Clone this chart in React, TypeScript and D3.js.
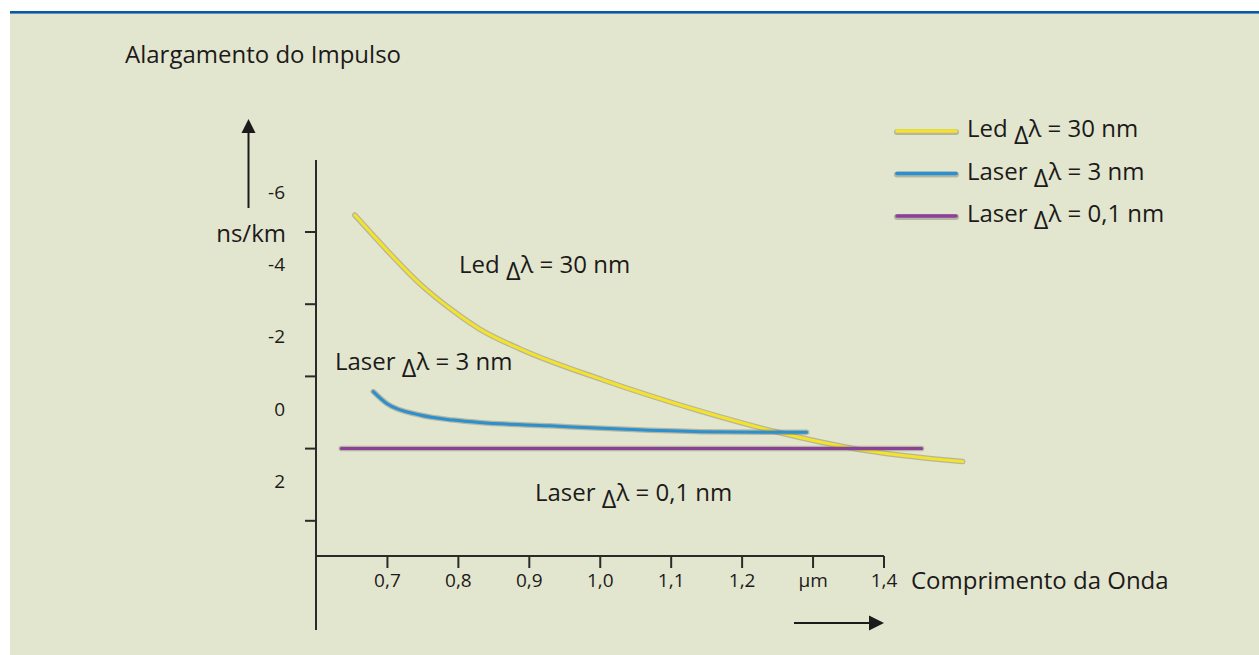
import React from "react";
import * as d3 from "d3";

const W = 1259;
const H = 655;

const xTicks = [0.7, 0.8, 0.9, 1.0, 1.1, 1.2, 1.3, 1.4];
const xTickLabels = ["0,7", "0,8", "0,9", "1,0", "1,1", "1,2", "µm", "1,4"];
const yTickMarks = [-5, -3, -1, 1, 3];
const yLabelValues = [-6, -4, -2, 0, 2];
const yLabelTexts = ["-6", "-4", "-2", "0", "2"];

const ledX = [0.654, 0.677, 0.699, 0.746, 0.793, 0.83, 0.887, 1.004, 1.141, 1.249, 1.361, 1.511];
const ledY = [-5.47, -4.97, -4.5, -3.56, -2.81, -2.31, -1.76, -0.9, -0.04, 0.54, 1.01, 1.36];

const laser3X = [0.68, 0.699, 0.746, 0.793, 0.83, 0.929, 1.028, 1.141, 1.291];
const laser3Y = [-0.58, -0.25, 0.07, 0.21, 0.28, 0.37, 0.46, 0.53, 0.55];

const laser01X = [0.635, 1.453];
const laser01Y = [1.0, 1.0];

const seriesNames = ["Led", "Laser", "Laser"];
const seriesWidths = ["30 nm", "3 nm", "0,1 nm"];
const seriesColors = ["#f5e22a", "#2b8fd0", "#8d3f9c"];

const FONT = "'Open Sans', sans-serif";
const INK = "#1c1a1a";

function LabelDelta({ x, y, name, width, size }: { x: number; y: number; name: string; width: string; size: number }) {
  return (
    <text x={x} y={y} fontSize={size} fontFamily={FONT} fill={INK}>
      <tspan>{name + " "}</tspan>
      <tspan fontSize={size * 1.05} dy={7}>Δ</tspan>
      <tspan dy={-7}>{"λ = " + width}</tspan>
    </text>
  );
}

export default function App() {
  const x = d3.scaleLinear().domain([0.6, 1.4]).range([316.5, 884]);
  const y = d3.scaleLinear().domain([-5, 3]).range([232, 520.8]);

  const line = d3
    .line<[number, number]>()
    .x((d) => x(d[0]))
    .y((d) => y(d[1]))
    .curve(d3.curveMonotoneX);

  const series = [
    { xs: ledX, ys: ledY, color: seriesColors[0] },
    { xs: laser3X, ys: laser3Y, color: seriesColors[1] },
    { xs: laser01X, ys: laser01Y, color: seriesColors[2] },
  ];

  const axisLeft = x(0.6) - 0.5;
  const axisY = 556;

  return (
    <svg width={W} height={H} style={{ position: "absolute", left: 0, top: 0 }}>
      <rect x={10} y={11} width={W - 10} height={H - 11} fill="#e3e6ce" />
      <rect x={10} y={11} width={W - 10} height={2.6} fill="#0b58a6" />

      <text x={125} y={63} fontSize={24} fontFamily={FONT} fill={INK}>
        Alargamento do Impulso
      </text>

      {/* y axis arrow */}
      <line x1={248.5} x2={248.5} y1={208} y2={130} stroke={INK} strokeWidth={2} />
      <path d="M241.5,133 L248.5,119 L255.5,133 Z" fill={INK} />

      {/* y axis */}
      <line x1={axisLeft} x2={axisLeft} y1={160} y2={630} stroke="#2b2a2a" strokeWidth={2} />
      {yTickMarks.map((t) => (
        <line key={t} x1={305} x2={axisLeft} y1={y(t)} y2={y(t)} stroke="#2b2a2a" strokeWidth={2} />
      ))}
      {yLabelValues.map((v, i) => (
        <text
          key={v}
          x={285}
          y={y(v) - 4}
          textAnchor="end"
          dominantBaseline="central"
          fontSize={19}
          fontFamily={FONT}
          fill={INK}
        >
          {yLabelTexts[i]}
        </text>
      ))}
      <text x={286} y={y(-5)} textAnchor="end" dominantBaseline="central" fontSize={24} fontFamily={FONT} fill={INK}>
        ns/km
      </text>

      {/* x axis */}
      <line x1={axisLeft - 1} x2={x(1.4)} y1={axisY} y2={axisY} stroke="#2b2a2a" strokeWidth={2} />
      {xTicks.map((t, i) => (
        <g key={t}>
          <line x1={x(t)} x2={x(t)} y1={axisY} y2={axisY + 12} stroke="#2b2a2a" strokeWidth={2} />
          <text x={x(t)} y={587} textAnchor="middle" fontSize={19} fontFamily={FONT} fill={INK}>
            {xTickLabels[i]}
          </text>
        </g>
      ))}
      <text x={911} y={589} fontSize={24} fontFamily={FONT} fill={INK}>
        Comprimento da Onda
      </text>

      {/* x axis arrow */}
      <line x1={794} x2={872} y1={623} y2={623} stroke={INK} strokeWidth={2} />
      <path d="M869,615.5 L884,623 L869,630.5 Z" fill={INK} />

      {/* curves */}
      {series.map((s, i) => {
        const pts = s.xs.map((v, j) => [v, s.ys[j]] as [number, number]);
        const d = line(pts) || "";
        return (
          <g key={i}>
            <path d={d} fill="none" stroke="#7d7d66" strokeOpacity={0.45} strokeWidth={5.5} strokeLinecap="round" />
            <path d={d} fill="none" stroke={s.color} strokeWidth={3} strokeLinecap="round" />
          </g>
        );
      })}

      {/* in-plot labels */}
      <LabelDelta x={459} y={273} name="Led" width="30 nm" size={24} />
      <LabelDelta x={335} y={370} name="Laser" width="3 nm" size={24} />
      <LabelDelta x={535} y={501} name="Laser" width="0,1 nm" size={24} />

      {/* legend */}
      {seriesColors.map((c, i) => {
        const ly = 131 + i * 42.5;
        return (
          <g key={i}>
            <line x1={897} x2={956} y1={ly + 1} y2={ly + 1} stroke="#7d7d66" strokeOpacity={0.45} strokeWidth={6} strokeLinecap="round" />
            <line x1={897} x2={956} y1={ly} y2={ly} stroke={c} strokeWidth={3.5} strokeLinecap="round" />
            <LabelDelta x={967} y={ly + 6} name={seriesNames[i]} width={seriesWidths[i]} size={24} />
          </g>
        );
      })}
    </svg>
  );
}
